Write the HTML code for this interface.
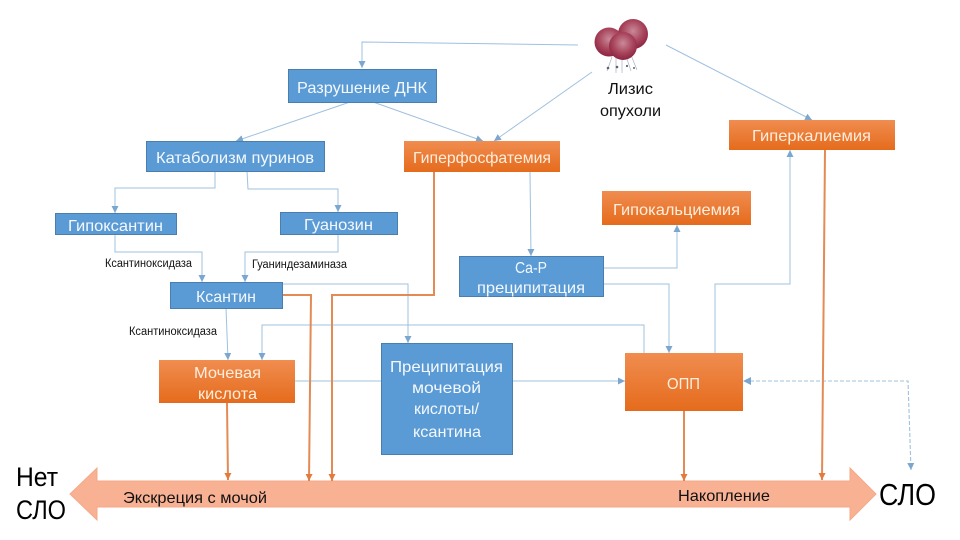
<!DOCTYPE html>
<html><head><meta charset="utf-8"><style>
html,body{margin:0;padding:0;background:#fff}
svg{display:block}
text{font-family:"Liberation Sans","DejaVu Sans",sans-serif}
</style></head><body>
<svg width="960" height="540" viewBox="0 0 960 540" xmlns="http://www.w3.org/2000/svg">
<defs>
<linearGradient id="o" x1="0" y1="0" x2="0" y2="1"><stop offset="0" stop-color="#f08d50"/><stop offset="1" stop-color="#e56b1c"/></linearGradient>
<radialGradient id="b" cx=".5" cy=".4" r=".6"><stop offset="0" stop-color="#c98a98"/><stop offset=".6" stop-color="#a8445c"/><stop offset="1" stop-color="#8c2440"/></radialGradient>
<marker id="ab" markerUnits="userSpaceOnUse" markerWidth="9" markerHeight="8" refX="7" refY="3.500" orient="auto"><path d="M0 0L7 3.500L0 7z" fill="#7ba6cf"/></marker>
<marker id="ao" markerUnits="userSpaceOnUse" markerWidth="9" markerHeight="8" refX="7" refY="3.500" orient="auto"><path d="M0 0L7 3.500L0 7z" fill="#e47b3c"/></marker>
</defs>

<!-- big arrow -->
<path d="M70 494L97 468V481H850V468L876 494L850 520V507H97V520Z" fill="#f9b194" stroke="#f4a987" stroke-width="1"/>

<!-- blue connectors -->
<g fill="none" stroke="#9fc0de" stroke-width="1" marker-end="url(#ab)">
<path d="M578 45L362 42V68"/>
<path d="M592 72L494 141"/>
<path d="M666 45L812 120"/>
<path d="M350 102L236 141"/>
<path d="M373 102L483 141"/>
<path d="M215 171V188H115V213"/>
<path d="M247 171L248 189H338V212"/>
<path d="M115 234V252H202V282"/>
<path d="M338 234V252H245V282"/>
<path d="M282 284H408V343"/>
<path d="M226 308L228 360"/>
<path d="M644 353V325H262V360"/>
<path d="M530 172L531 256"/>
<path d="M603 268H677V225"/>
<path d="M603 284H669V353"/>
<path d="M715 353V284H790V150"/>
<path d="M512 381H625"/>
</g>
<path d="M295 381H381" fill="none" stroke="#9fc0de" stroke-width="1"/>
<g fill="none" stroke="#9fc0de" stroke-width="1.1" stroke-dasharray="4 2">
<path d="M750 381H908L911 470" marker-end="url(#ab)"/>
</g>
<path d="M751 377L743 381L751 385z" fill="#7ba6cf"/>

<!-- orange connectors -->
<g fill="none" stroke="#e48a55" stroke-width="2" marker-end="url(#ao)">
<path d="M282 295H311L309 481"/>
<path d="M434 172V295H332V481"/>
<path d="M825 150L822 480"/>
<path d="M684 411V481"/>
<path d="M227 403L228 480"/>
</g>

<!-- blue nodes -->
<g fill="#5b9bd5" stroke="#4a7eae" stroke-width="1">
<rect x="288.500" y="69.500" width="148" height="33"/>
<rect x="146.500" y="141.500" width="178" height="30"/>
<rect x="55.500" y="213.500" width="121" height="21"/>
<rect x="280.500" y="212.500" width="117" height="22"/>
<rect x="170.500" y="282.500" width="112" height="26"/>
<rect x="459.500" y="256.500" width="144" height="40"/>
<rect x="381.500" y="343.500" width="131" height="111"/>
</g>
<!-- orange nodes -->
<g fill="url(#o)">
<rect x="404" y="141" width="156" height="31"/>
<rect x="602" y="191" width="149" height="34"/>
<rect x="729" y="120" width="166" height="30"/>
<rect x="159" y="360" width="136" height="43"/>
<rect x="625" y="353" width="118" height="58"/>
</g>

<!-- balloons -->
<g>
<g stroke="#a8b2c2" stroke-width=".7" fill="none">
<path d="M612 57L607 71M616 58L616 73M622 57L622 73M626 56L631 71M631 55L637 70"/>
</g>
<g fill="#5a6478"><circle cx="608" cy="68" r="1.300"/><circle cx="617" cy="67" r="1.300"/><circle cx="627" cy="66" r="1.100"/><circle cx="634" cy="68" r="1"/></g>
<circle cx="633" cy="34" r="15" fill="url(#b)"/>
<circle cx="609" cy="42" r="14.500" fill="url(#b)"/>
<circle cx="623" cy="46" r="14" fill="url(#b)"/>
</g>

<!-- node text -->
<g fill="#f4f8fc" font-size="16">
<text x="297" y="93" textLength="130" lengthAdjust="spacingAndGlyphs">Разрушение ДНК</text>
<text x="156" y="163" textLength="158" lengthAdjust="spacingAndGlyphs">Катаболизм пуринов</text>
<text x="68" y="231" textLength="95" lengthAdjust="spacingAndGlyphs">Гипоксантин</text>
<text x="304" y="230" textLength="69" lengthAdjust="spacingAndGlyphs">Гуанозин</text>
<text x="196" y="302" textLength="60" lengthAdjust="spacingAndGlyphs">Ксантин</text>
<text x="515" y="273" textLength="32" lengthAdjust="spacingAndGlyphs">Ca-P</text>
<text x="477" y="293" textLength="108" lengthAdjust="spacingAndGlyphs">преципитация</text>
<text x="390" y="372" textLength="113" lengthAdjust="spacingAndGlyphs">Преципитация</text>
<text x="412" y="393" textLength="69" lengthAdjust="spacingAndGlyphs">мочевой</text>
<text x="414" y="414" textLength="65" lengthAdjust="spacingAndGlyphs">кислоты/</text>
<text x="413" y="437" textLength="68" lengthAdjust="spacingAndGlyphs">ксантина</text>
</g>
<g fill="#fdeedd" font-size="16">
<text x="413" y="163" textLength="138" lengthAdjust="spacingAndGlyphs">Гиперфосфатемия</text>
<text x="613" y="215" textLength="127" lengthAdjust="spacingAndGlyphs">Гипокальциемия</text>
<text x="752" y="141" textLength="119" lengthAdjust="spacingAndGlyphs">Гиперкалиемия</text>
<text x="194" y="378" textLength="67" lengthAdjust="spacingAndGlyphs">Мочевая</text>
<text x="198" y="399" textLength="59" lengthAdjust="spacingAndGlyphs">кислота</text>
<text x="667" y="389" textLength="33" lengthAdjust="spacingAndGlyphs">ОПП</text>
</g>

<!-- labels -->
<g fill="#111" font-size="11.500">
<text x="105" y="267" textLength="87" lengthAdjust="spacingAndGlyphs">Ксантиноксидаза</text>
<text x="252" y="268" textLength="95" lengthAdjust="spacingAndGlyphs">Гуаниндезаминаза</text>
<text x="129" y="335" textLength="88" lengthAdjust="spacingAndGlyphs">Ксантиноксидаза</text>
</g>
<g fill="#111" font-size="16">
<text x="608" y="94" textLength="45" lengthAdjust="spacingAndGlyphs">Лизис</text>
<text x="600" y="116" textLength="61" lengthAdjust="spacingAndGlyphs">опухоли</text>
<text x="123" y="503" textLength="144" lengthAdjust="spacingAndGlyphs">Экскреция с мочой</text>
<text x="678" y="501" textLength="92" lengthAdjust="spacingAndGlyphs">Накопление</text>
</g>
<g fill="#000" font-size="27">
<text x="16" y="486" textLength="42" lengthAdjust="spacingAndGlyphs">Нет</text>
<text x="16" y="519" textLength="50" lengthAdjust="spacingAndGlyphs">СЛО</text>
<text x="879" y="505" font-size="31" textLength="57" lengthAdjust="spacingAndGlyphs">СЛО</text>
</g>
</svg>
</body></html>
